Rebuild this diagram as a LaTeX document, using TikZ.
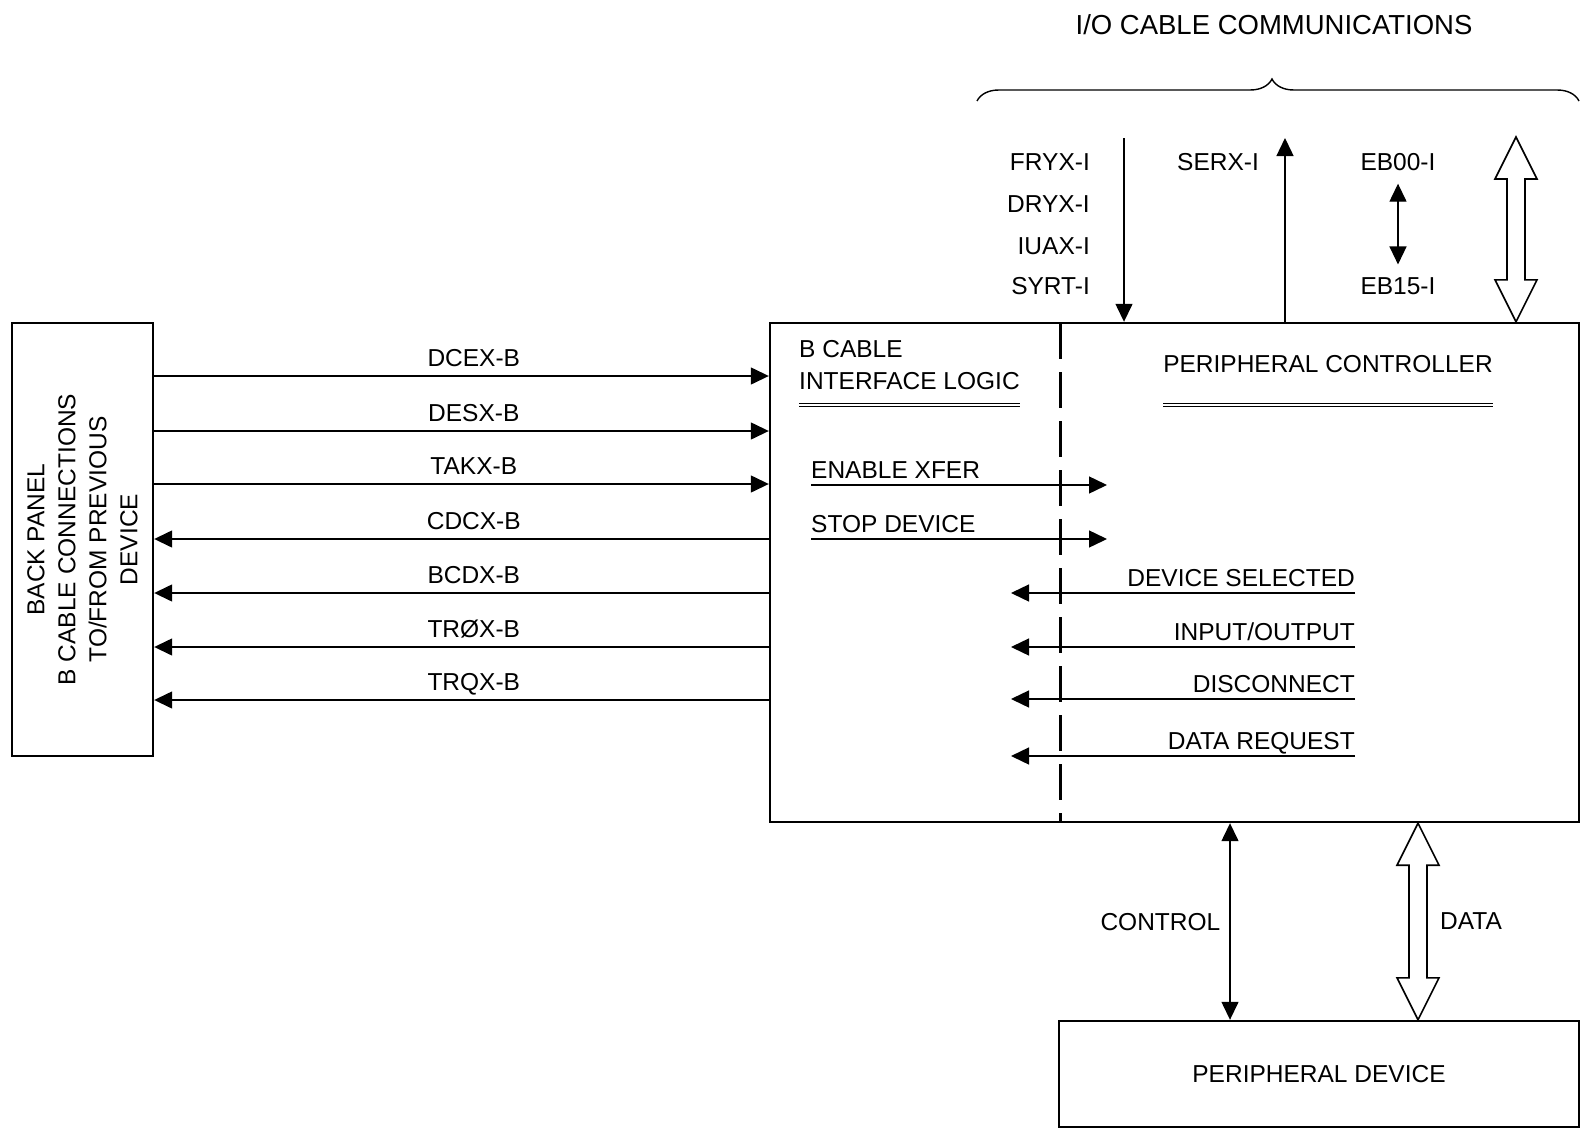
\documentclass[tikz,border=0pt]{standalone}
\usepackage{fontspec}
\setmainfont{Liberation Sans}
\usetikzlibrary{
  arrows.meta,
  positioning,
  calc,
  decorations.pathreplacing
}

% hollow double-headed bus arrow, #1 = upper end, #2 = lower end
\newcommand{\busarrow}[2]{%
  \draw[bus] let \p1=(#1), \p2=(#2) in
    (\x1,\y1) -- (\x1+21pt,\y1-42pt) -- (\x1+9pt,\y1-42pt) -- (\x1+9pt,\y2+42pt)
    -- (\x1+21pt,\y2+42pt) -- (\x1,\y2) -- (\x1-21pt,\y2+42pt) -- (\x1-9pt,\y2+42pt)
    -- (\x1-9pt,\y1-42pt) -- (\x1-21pt,\y1-42pt) -- cycle;}

\begin{document}
\begin{tikzpicture}[
      x=1pt, y=-1pt,
      font=\fontsize{24.5}{31}\selectfont,
      >={Triangle[length=18pt,width=17pt]},
      box/.style={
         draw,
         line width=2.4pt,
         inner sep=0pt
      },
      signal/.style={line width=1.4pt},
      sig label/.style={above, inner sep=0pt, text depth=0pt, yshift=8.5pt},
      txt/.style={inner sep=0pt, text depth=0pt},
      underline/.style={double, double distance=2.6pt, line width=0.9pt},
      divider/.style={line width=3pt, dash pattern=on 36pt off 13pt},
      bus/.style={line width=1.6pt, fill=white, line join=miter},
      brace/.style={decorate, decoration={brace, amplitude=22pt, aspect=0.49},
         line width=1.4pt},
    ]
    \useasboundingbox (0,0) rectangle (1585,1132);

    % boxes
    \node (panel) [box, minimum width=141, minimum height=433] at (82.5,539.5) {};
    \node (paneltxt) [rotate=90, align=center] at (panel.center)
       {BACK PANEL\\B CABLE CONNECTIONS\\TO/FROM PREVIOUS\\DEVICE};
    \node (ctl) [box, minimum width=809, minimum height=499] at (1174.5,572.5) {};
    \node (dev) [box, minimum width=520, minimum height=106] at (1319,1074) {PERIPHERAL DEVICE};

    \coordinate (split) at (1060,323);
    \draw[divider] (split) -- (split |- ctl.south);

    % headings
    \node (bcable) [txt, anchor=base west] at (799,357.5) {B CABLE};
    \node (ilogic) [txt, anchor=base west] at (799,389.5) {INTERFACE LOGIC};
    \draw[underline] ([yshift=-15.5pt]ilogic.base west) -- ([yshift=-15.5pt]ilogic.base east);
    \node (pchead) [txt, anchor=base] at (1328,372.5) {PERIPHERAL CONTROLLER};
    \draw[underline] ([yshift=-32.5pt]pchead.base west) -- ([yshift=-32.5pt]pchead.base east);

    % back panel signals
    \draw[signal,->] (panel.east |- 0,376) -- node[sig label, pos=.52] {DCEX-B} (ctl.west |- 0,376);
    \draw[signal,->] (panel.east |- 0,431) -- node[sig label, pos=.52] {DESX-B} (ctl.west |- 0,431);
    \draw[signal,->] (panel.east |- 0,484) -- node[sig label, pos=.52] {TAKX-B} (ctl.west |- 0,484);
    \draw[signal,<-] (panel.east |- 0,539) -- node[sig label, pos=.52] {CDCX-B} (ctl.west |- 0,539);
    \draw[signal,<-] (panel.east |- 0,593) -- node[sig label, pos=.52] {BCDX-B} (ctl.west |- 0,593);
    \draw[signal,<-] (panel.east |- 0,647) -- node[sig label, pos=.52] {TRØX-B} (ctl.west |- 0,647);
    \draw[signal,<-] (panel.east |- 0,700) -- node[sig label, pos=.52] {TRQX-B} (ctl.west |- 0,700);

    % internal signals to controller
    \node (enx) [txt, anchor=base west] at (811,478) {ENABLE XFER};
    \coordinate (enx end) at (1107,485);
    \draw[signal,->] (enx.base west |- enx end) -- (enx end);
    \node (stp) [txt, anchor=base west] at (811,532) {STOP DEVICE};
    \coordinate (stp end) at (1107,539);
    \draw[signal,->] (stp.base west |- stp end) -- (stp end);

    % internal signals from controller
    \node (dsel) [txt, anchor=base east] at (1355,586) {DEVICE SELECTED};
    \coordinate (dsel end) at (1011,593);
    \draw[signal,->] (dsel.base east |- dsel end) -- (dsel end);
    \node (inout) [txt, anchor=base east] at (1355,640) {INPUT/OUTPUT};
    \coordinate (inout end) at (1011,647);
    \draw[signal,->] (inout.base east |- inout end) -- (inout end);
    \node (disc) [txt, anchor=base east] at (1355,692) {DISCONNECT};
    \coordinate (disc end) at (1011,699);
    \draw[signal,->] (disc.base east |- disc end) -- (disc end);
    \node (dreq) [txt, anchor=base east] at (1355,749) {DATA REQUEST};
    \coordinate (dreq end) at (1011,756);
    \draw[signal,->] (dreq.base east |- dreq end) -- (dreq end);

    % I/O cable
    \node (iotitle) [font=\fontsize{27.5}{32}\selectfont] at (1274,25) {I/O CABLE COMMUNICATIONS};
    \draw[brace] (977,101) -- (1579,101);

    \node (fryx) [txt, anchor=base east] at (1090,170.5) {FRYX-I};
    \node (dryx) [txt, anchor=base east] at (1090,212.5) {DRYX-I};
    \node (iuax) [txt, anchor=base east] at (1090,254.5) {IUAX-I};
    \node (syrt) [txt, anchor=base east] at (1090,294.5) {SYRT-I};
    \coordinate (fry top) at (1124,138);
    \draw[signal,->] (fry top) -- (fry top |- ctl.north);

    \node (serx) [txt, anchor=base] at (1218,170.5) {SERX-I};
    \coordinate (ser top) at (1285,138);
    \draw[signal,->] (ser top |- ctl.north) -- (ser top);

    \node (eb00) [txt, anchor=base] at (1398,170.5) {EB00-I};
    \node (eb15) [txt, anchor=base] at (1398,294.5) {EB15-I};
    \draw[signal,<->, shorten <=13pt, shorten >=13pt] (eb00) -- (eb15);

    \coordinate (bus top) at (1516,137);
    \busarrow{bus top}{bus top |- ctl.north}

    % controller to device
    \coordinate (ctrl) at (1230,0);
    \draw[signal,<->] (ctrl |- ctl.south) -- node[left=9pt, txt] {CONTROL} (ctrl |- dev.north);
    \coordinate (dbus) at (1418,0);
    \busarrow{dbus |- ctl.south}{dbus |- dev.north}
    \node (datalbl) [txt, right=22pt] at ($(dbus |- ctl.south)!.5!(dbus |- dev.north)$) {DATA};
\end{tikzpicture}
\end{document}
